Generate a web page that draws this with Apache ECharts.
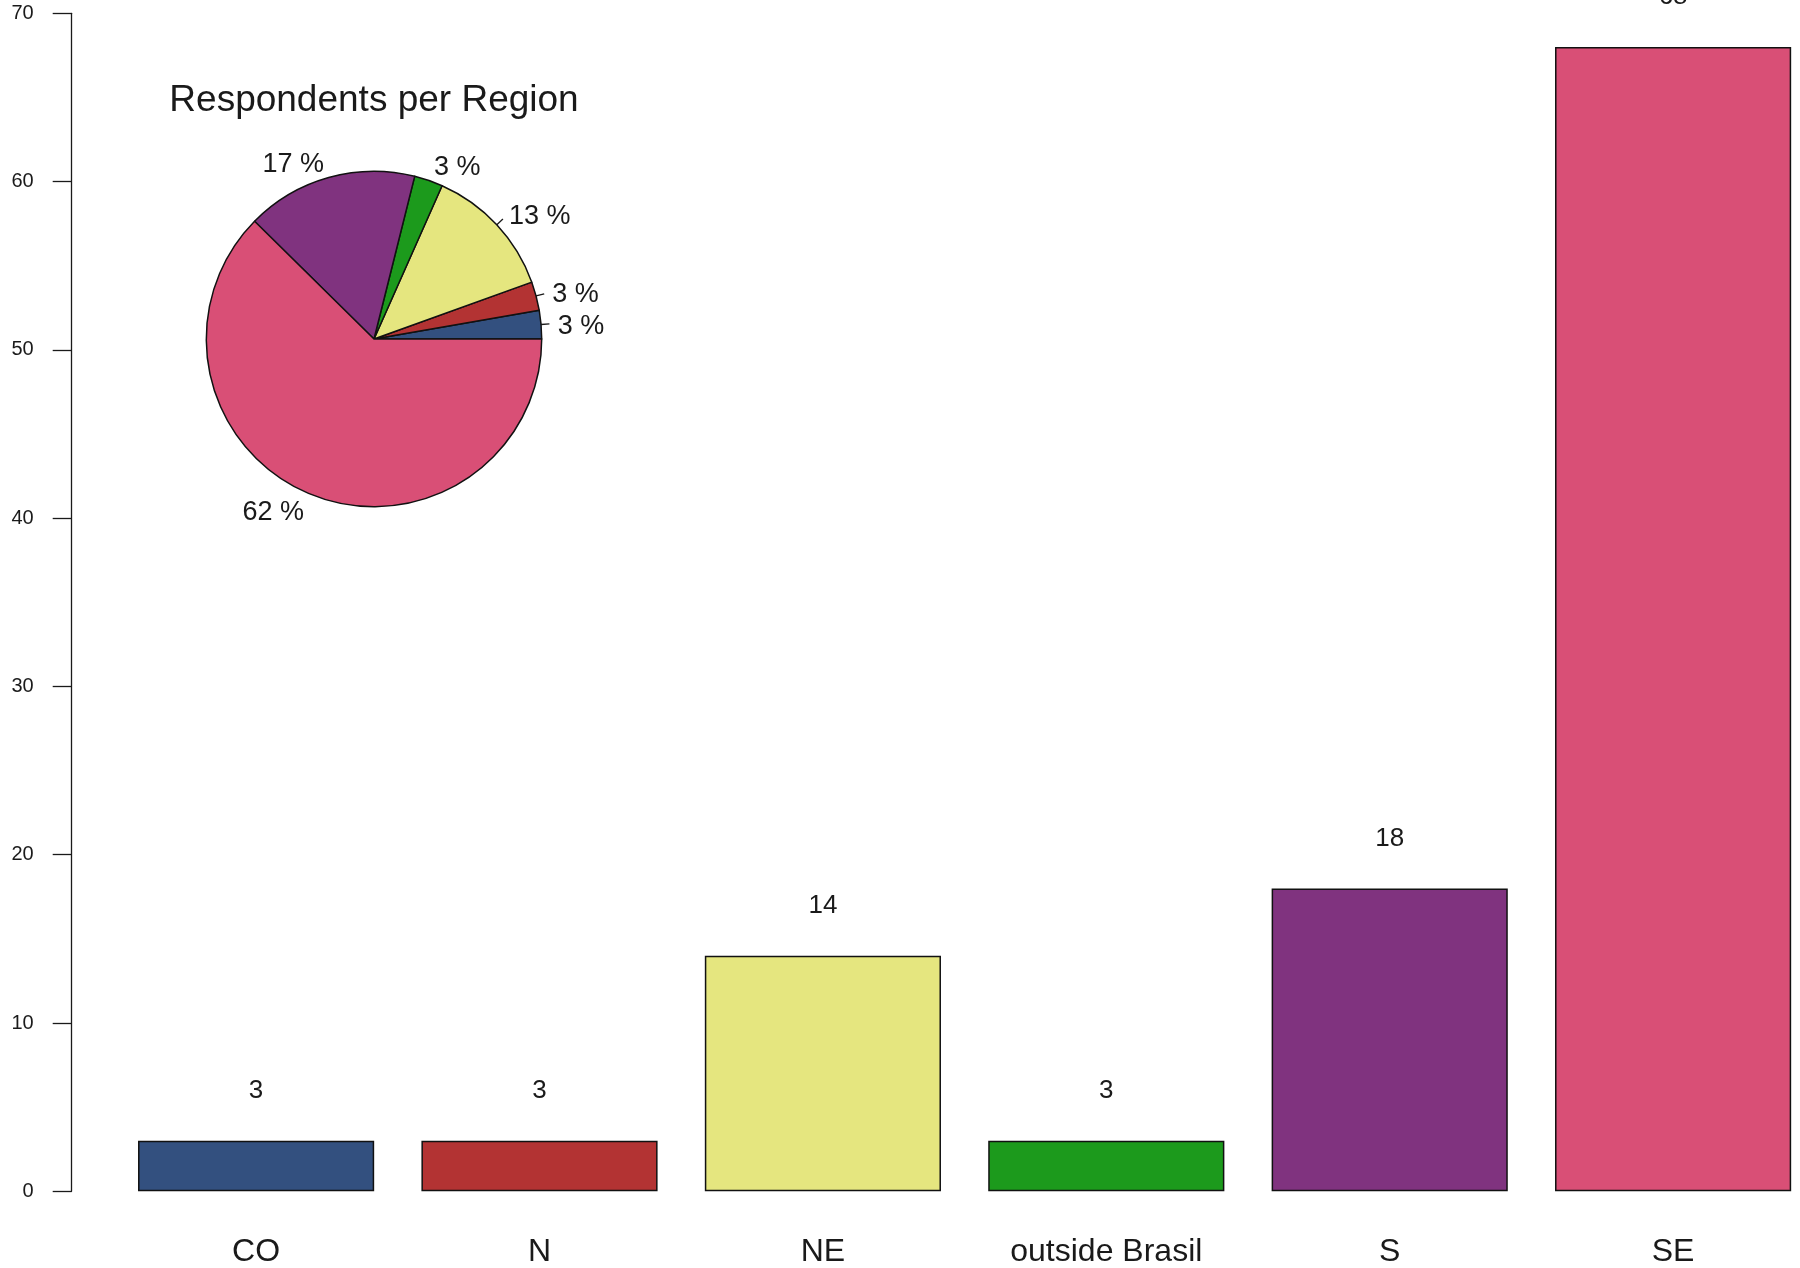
<!DOCTYPE html>
<html>
<head>
<meta charset="utf-8">
<script src="https://cdn.jsdelivr.net/npm/echarts@6/dist/echarts.min.js"></script>
<style>
  html, body { margin: 0; padding: 0; background: #ffffff; }
  #chart { width: 1800px; height: 1268px; }
</style>
</head>
<body>
<div id="chart"></div>
<script>
// Survey respondents by Brazilian region
const regions = ['CO', 'N', 'NE', 'outside Brasil', 'S', 'SE'];
const respondents = [3, 3, 14, 3, 18, 68];
const regionColors = ['#33507f', '#b33333', '#e5e67f', '#1c9a1c', '#80337f', '#d94f76'];
const yTicks = [0, 10, 20, 30, 40, 50, 60, 70];
const pieTitle = 'Respondents per Region';

const FONT = '"Liberation Sans", Arial, Helvetica, sans-serif';
const INK = '#1a1a1a';
const PIE_R = 167.7;

const chart = echarts.init(document.getElementById('chart'), null, { renderer: 'canvas' });

const pieData = regions.map((name, i) => ({
  name: name,
  value: respondents[i],
  itemStyle: { color: regionColors[i] }
}));

const pieBase = {
  type: 'pie',
  center: [374, 339],
  radius: [0, PIE_R],
  startAngle: 0,
  clockwise: false,
  avoidLabelOverlap: false,
  silent: true,
  emphasis: { disabled: true },
  animation: false
};

chart.setOption({
  animation: false,
  backgroundColor: '#ffffff',
  title: {
    text: pieTitle,
    left: 374,
    top: 82,
    padding: 0,
    textAlign: 'center',
    textStyle: { fontFamily: FONT, fontSize: 37, fontWeight: 'normal', color: INK }
  },
  grid: {
    left: 114.4, top: 13.3, width: 1700.4, height: 1178,
    containLabel: false,
    outerBoundsMode: 'none'
  },
  xAxis: {
    type: 'category',
    data: regions,
    axisLine: { show: false },
    axisTick: { show: false },
    axisLabel: { fontFamily: FONT, fontSize: 32, color: INK, margin: 45, interval: 0 },
    splitLine: { show: false }
  },
  yAxis: {
    type: 'value',
    min: yTicks[0],
    max: yTicks[yTicks.length - 1],
    interval: yTicks[1] - yTicks[0],
    offset: 42.7,
    axisLine: { show: true, lineStyle: { color: INK, width: 1.3 } },
    axisTick: { show: true, length: 19, lineStyle: { color: INK, width: 1.3 } },
    axisLabel: { fontFamily: FONT, fontSize: 20, color: INK, margin: 38 },
    splitLine: { show: false }
  },
  series: [
    {
      type: 'bar',
      data: respondents.map((v, i) => ({ value: v, itemStyle: { color: regionColors[i] } })),
      barCategoryGap: '16.67%',
      itemStyle: { borderColor: '#111111', borderWidth: 1.5 },
      label: {
        show: true,
        position: 'top',
        distance: 37,
        fontFamily: FONT,
        fontSize: 26,
        color: INK
      },
      silent: true
    },
    // pie slices with their percentage texts set at 1.1 radius
    Object.assign({}, pieBase, {
      data: pieData,
      itemStyle: { borderColor: '#111111', borderWidth: 1.5 },
      label: {
        show: true,
        position: 'outside',
        fontFamily: FONT,
        fontSize: 27,
        color: INK,
        distanceToLabelLine: 0,
        formatter: p => Math.round(p.percent) + ' %'
      },
      labelLine: { show: false, length: PIE_R * 0.1, length2: 0 },
      labelLayout: { dy: 3 }
    }),
    // short radial ticks from the rim out to 1.05 radius
    Object.assign({}, pieBase, {
      data: pieData.map(d => ({ name: d.name, value: d.value })),
      itemStyle: { color: 'rgba(0,0,0,0)', borderWidth: 0 },
      label: {
        show: true,
        position: 'outside',
        fontSize: 1,
        color: 'rgba(0,0,0,0)',
        formatter: () => ' '
      },
      labelLine: {
        show: true,
        length: PIE_R * 0.05,
        length2: 0,
        smooth: false,
        lineStyle: { color: INK, width: 1.3 }
      }
    })
  ]
});
</script>
</body>
</html>
